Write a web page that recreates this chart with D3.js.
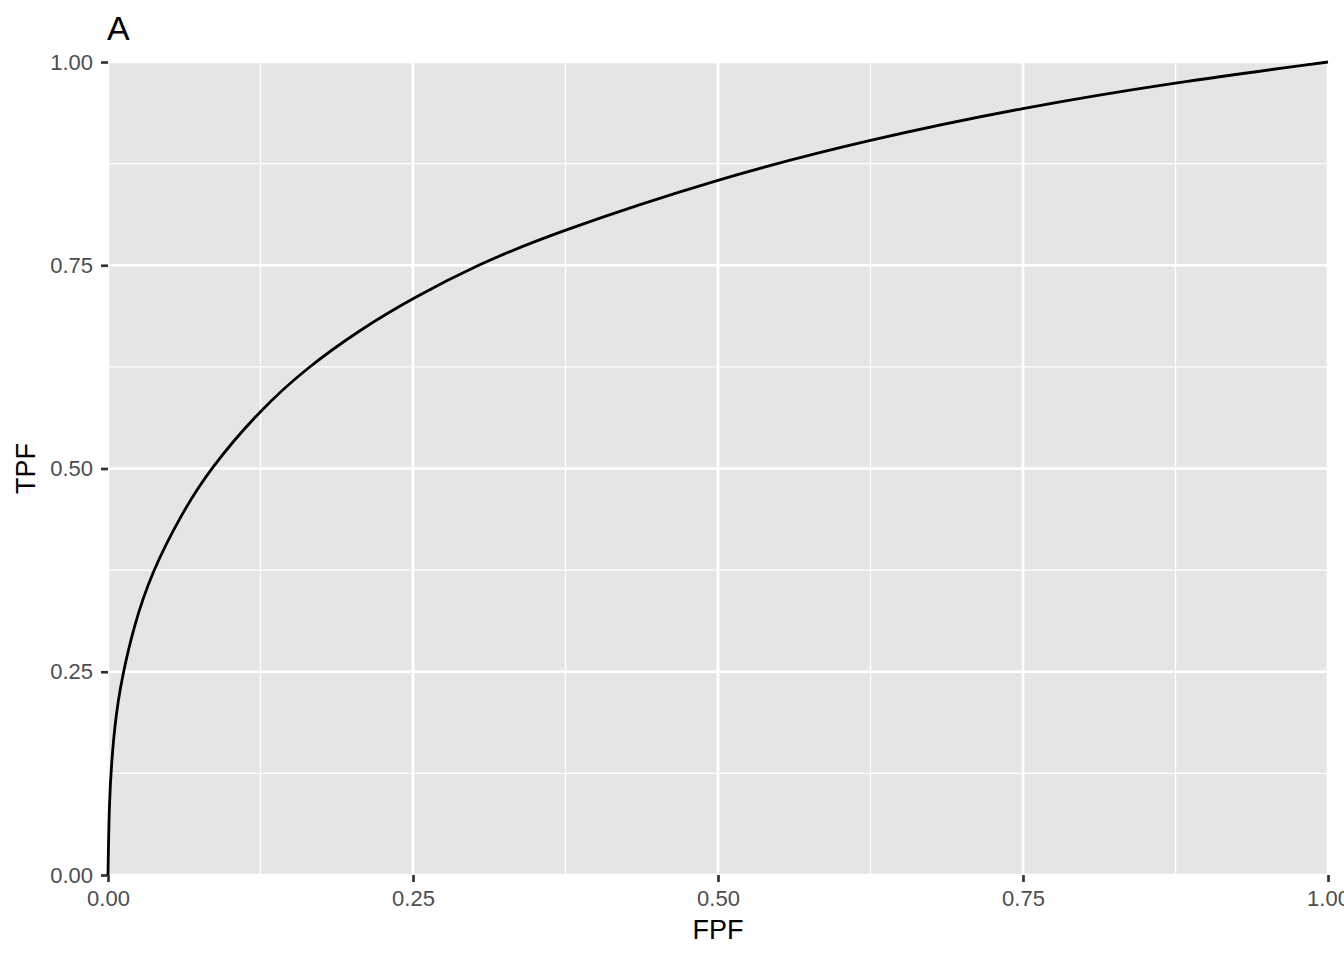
<!DOCTYPE html>
<html>
<head>
<meta charset="utf-8">
<script src="https://cdn.jsdelivr.net/npm/d3@7"></script>
<style>
  html, body { margin: 0; padding: 0; background: #fff; }
  svg { display: block; font-family: "Liberation Sans", Arial, Helvetica, sans-serif; }
</style>
</head>
<body>
<svg></svg>
<script>
// Data
const fpf = [0, 0.001, 0.003, 0.0057, 0.0085, 0.0112, 0.0208, 0.0358, 0.059, 0.0836,
             0.125, 0.1628, 0.2066, 0.25, 0.302, 0.3623, 0.5, 0.625, 0.75, 0.875, 1.0];
const tpf = [0, 0.09, 0.14, 0.185, 0.215, 0.24, 0.305, 0.372, 0.441, 0.5,
             0.5725, 0.6237, 0.6708, 0.7097, 0.75, 0.788, 0.857, 0.905, 0.944, 0.975, 1.0];
const majorTicks = [0, 0.25, 0.5, 0.75, 1];
const minorTicks = [0.125, 0.375, 0.625, 0.875];
const titleText = "A";
const xLabel = "FPF";
const yLabel = "TPF";

// Dimensions and margins
const width = 1344, height = 960;
const margin = { top: 62, right: 16, bottom: 85, left: 108 };
const innerWidth = width - margin.left - margin.right;
const innerHeight = height - margin.top - margin.bottom;

const svg = d3.select("svg").attr("width", width).attr("height", height);
const g = svg.append("g").attr("transform", `translate(${margin.left},${margin.top})`);

// Scales
const xScale = d3.scaleLinear().domain([0, 1]).range([0, innerWidth]);
const yScale = d3.scaleLinear().domain([0, 1]).range([innerHeight, 0]);

// Panel background
g.append("rect")
    .attr("width", innerWidth)
    .attr("height", innerHeight)
    .attr("fill", "#E5E5E5");

// Grid lines
const drawGrid = (ticks, w) => {
    g.append("g").selectAll("line.vx")
        .data(ticks).enter().append("line")
        .attr("x1", d => xScale(d)).attr("x2", d => xScale(d))
        .attr("y1", 0).attr("y2", innerHeight)
        .attr("stroke", "#fff").attr("stroke-width", w);
    g.append("g").selectAll("line.hy")
        .data(ticks).enter().append("line")
        .attr("y1", d => yScale(d)).attr("y2", d => yScale(d))
        .attr("x1", 0).attr("x2", innerWidth)
        .attr("stroke", "#fff").attr("stroke-width", w);
};
drawGrid(minorTicks, 1.35);
drawGrid(majorTicks, 2.7);

// Axes
const fmt = d3.format(".2f");
const xAxis = g.append("g")
    .attr("transform", `translate(0,${innerHeight})`)
    .call(d3.axisBottom(xScale).tickValues(majorTicks).tickFormat(fmt).tickSize(7).tickPadding(8));
const yAxis = g.append("g")
    .call(d3.axisLeft(yScale).tickValues(majorTicks).tickFormat(fmt).tickSize(7).tickPadding(8));
[xAxis, yAxis].forEach(a => {
    a.select(".domain").remove();
    a.selectAll(".tick line").attr("stroke", "#333333").attr("stroke-width", 2.7);
    a.selectAll(".tick text")
        .attr("fill", "#4D4D4D")
        .style("font-size", "22px")
        .style("font-family", "'Liberation Sans', Arial, sans-serif");
});

// ROC curve
const pts = fpf.map((x, i) => ({ x, y: tpf[i] }));
const line = d3.line()
    .x(d => xScale(d.x))
    .y(d => yScale(d.y))
    .curve(d3.curveBasis);
g.append("path")
    .datum(pts)
    .attr("fill", "none")
    .attr("stroke", "#000")
    .attr("stroke-width", 2.8)
    .attr("stroke-linejoin", "round")
    .attr("d", line);

// Titles
svg.append("text")
    .attr("x", margin.left - 1)
    .attr("y", 40)
    .style("font-size", "34px")
    .attr("fill", "#000")
    .text(titleText);

svg.append("text")
    .attr("x", margin.left + innerWidth / 2)
    .attr("y", 939)
    .attr("text-anchor", "middle")
    .style("font-size", "27px")
    .attr("fill", "#000")
    .text(xLabel);

svg.append("text")
    .attr("transform", `translate(35,${margin.top + innerHeight / 2}) rotate(-90)`)
    .attr("text-anchor", "middle")
    .style("font-size", "27px")
    .attr("fill", "#000")
    .text(yLabel);
</script>
</body>
</html>
